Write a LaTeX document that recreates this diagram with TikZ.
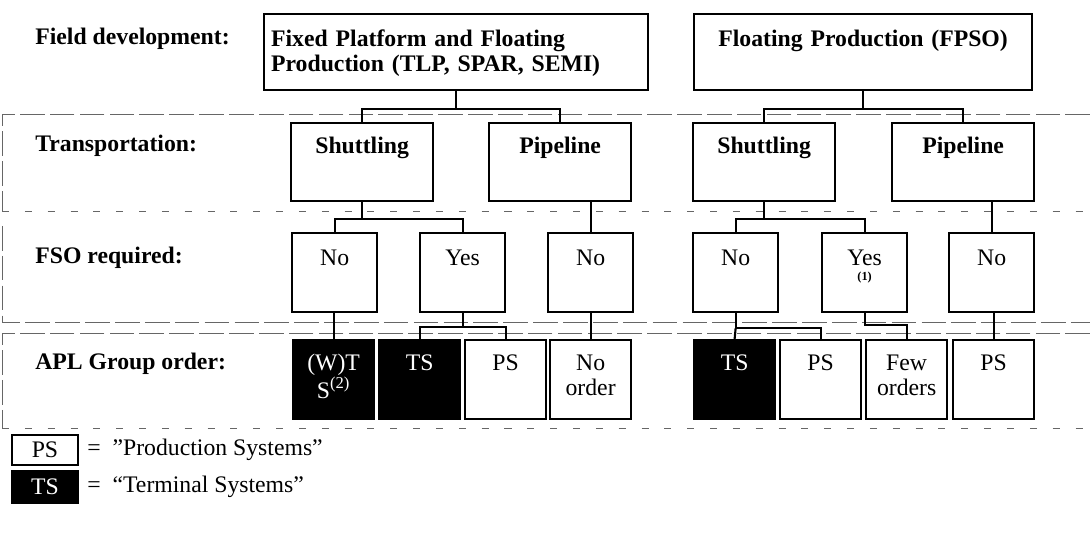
\documentclass[tikz,border=0pt]{standalone}
\usepackage{fontspec}
\setmainfont{Liberation Serif}
\begin{document}
\begin{tikzpicture}[x=0.02cm, y=-0.02cm,
  every node/.style={font=\fontsize{13.5}{14.2}\selectfont},
  box/.style={draw, line width=1.3pt, fill=white, inner sep=0pt, align=center, anchor=north west},
  fieldbox/.style={box, font=\fontsize{13.5}{14.2}\selectfont\bfseries, text height=0.64cm, text depth=0.88cm},
  transbox/.style={box, text width=2.84cm, font=\fontsize{13.5}{14.2}\selectfont\bfseries, text height=0.6cm, text depth=0.96cm},
  fsobox/.style={box, text width=1.7cm, text height=0.65cm, text depth=0.93cm},
  orderbox/.style={box, text width=1.62cm, text height=0.61cm, text depth=0.97cm},
  tsbox/.style={orderbox, fill=black, text=white},
  rowlabel/.style={anchor=base west, inner sep=0pt, font=\fontsize{13.5}{14.2}\selectfont\bfseries},
  link/.style={line width=1.2pt},
  band/.style={black!60, line width=0.5pt, dash pattern=on 14pt off 3pt},
  sparse/.style={black!60, line width=0.5pt, dash pattern=on 4pt off 9pt}]
  \useasboundingbox (0,0) rectangle (1090,533);
  % dashed row bands
  \draw[band] (1090,114) -- (2,114) -- (2,211);
  \draw[sparse] (2,211) -- (1090,211);
  \draw[band] (2,226) -- (2,322) -- (1090,322);
  \draw[band] (1090,333) -- (2,333) -- (2,428);
  \draw[sparse] (2,428) -- (1090,428);
  % row labels
  \node[rowlabel] (lfield) at (35,45) {Field development:};
  \node[rowlabel] (ltrans) at (35,152) {Transportation:};
  \node[rowlabel] (lfso) at (35,264) {FSO required:};
  \node[rowlabel] (lapl) at (35,370) {APL Group order:};
  % field development
  \node[fieldbox, text width=7.4cm, inner xsep=0.14cm, align=left] (fixed) at (263,13)
    {Fixed Platform and Floating\\Production (TLP, SPAR, SEMI)};
  \node[fieldbox, text width=6.76cm] (fpso) at (693,13) {Floating Production (FPSO)};
  % transportation
  \node[transbox] (shut1) at (290,122) {Shuttling};
  \node[transbox] (pipe1) at (488,122) {Pipeline};
  \node[transbox] (shut2) at (692,122) {Shuttling};
  \node[transbox] (pipe2) at (891,122) {Pipeline};
  % FSO required
  \node[fsobox] (noshut1) at (291,232) {No};
  \node[fsobox] (yesshut1) at (419,232) {Yes};
  \node[fsobox] (nopipe1) at (547,232) {No};
  \node[fsobox] (noshut2) at (692,232) {No};
  \node[fsobox] (yesshut2) at (821,232) {Yes\\[-6pt]{\fontsize{7}{8}\selectfont\bfseries (1)}};
  \node[fsobox] (nopipe2) at (948,232) {No};
  % APL group order
  \node[tsbox] (wts) at (292,339) {(W)T\\S\textsuperscript{(2)}};
  \node[tsbox] (ts1) at (378,339) {TS};
  \node[orderbox] (ps1) at (464,339) {PS};
  \node[orderbox] (noord) at (549,339) {No\\order};
  \node[tsbox] (ts2) at (693,339) {TS};
  \node[orderbox] (ps2) at (779,339) {PS};
  \node[orderbox] (few) at (865,339) {Few\\orders};
  \node[orderbox] (ps3) at (952,339) {PS};
  % field -> transportation
  \draw[link] (fixed.south) -- ++(0,18) coordinate (jfixed);
  \draw[link] (shut1.north) |- (jfixed) -| (pipe1.north);
  \draw[link] (fpso.south) -- ++(0,18) coordinate (jfpso);
  \draw[link] (shut2.north) |- (jfpso) -| (pipe2.north);
  % transportation -> FSO
  \draw[link] (shut1.south) -- ++(0,17) coordinate (jshut1);
  \draw[link] (noshut1.north) |- (jshut1) -| (yesshut1.north);
  \draw[link] (nopipe1.north) -- (nopipe1.north |- pipe1.south);
  \draw[link] (shut2.south) -- ++(0,17) coordinate (jshut2);
  \draw[link] (noshut2.north) |- (jshut2) -| (yesshut2.north);
  \draw[link] (nopipe2.north) -- (nopipe2.north |- pipe2.south);
  % FSO -> order
  \draw[link] (wts.north) -- (wts.north |- noshut1.south);
  \draw[link] (yesshut1.south) -- ++(0,14) coordinate (jyes1);
  \draw[link] (ts1.north) |- (jyes1) -| (ps1.north);
  \draw[link] (noord.north) -- (noord.north |- nopipe1.south);
  \draw[link] (noshut2.south) -- ++(0,15) coordinate (jno2) -| (ps2.north);
  \draw[link] (jno2) -- (ts2.north);
  \draw[link] (yesshut2.south) -- ++(0,12) -| (few.north);
  \draw[link] (ps3.north) -- (ps3.north |- nopipe2.south);
  % legend
  \node[box, anchor=center, minimum width=1.32cm, minimum height=0.6cm] (keyps) at (45,450) {PS};
  \node[box, anchor=center, fill=black, text=white, minimum width=1.32cm, minimum height=0.62cm] (keyts) at (45,487) {TS};
  \node[anchor=west, inner sep=0pt] (keypstext) at (87,450) {= \ ”Production Systems”};
  \node[anchor=west, inner sep=0pt] (keytstext) at (87,487) {= \ “Terminal Systems”};
\end{tikzpicture}
\end{document}
